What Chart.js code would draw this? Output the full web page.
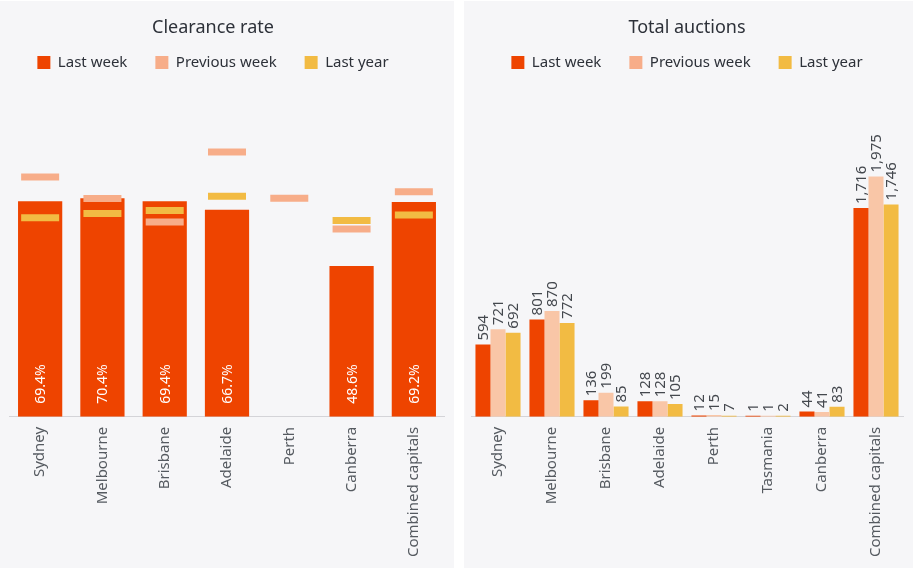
<!DOCTYPE html>
<html>
<head>
<meta charset="utf-8">
<script src="https://cdn.jsdelivr.net/npm/chart.js@4.4.1/dist/chart.umd.min.js"></script>
<style>
  body { margin: 0; background: #fff; width: 919px; height: 568px; position: relative; overflow: hidden; }
  .panel { position: absolute; top: 1px; height: 567px; background: #f6f6f8; }
  #left { left: 0; width: 454px; }
  #right { left: 464px; width: 449px; }
  .box { position: absolute; top: 0; height: 567px; }
  #leftBox { left: -19px; width: 464px; }
  #rightBox { left: 0; width: 449px; }
</style>
</head>
<body>
<div class="panel" id="left"><div class="box" id="leftBox"><canvas id="clearance"></canvas></div></div>
<div class="panel" id="right"><div class="box" id="rightBox"><canvas id="auctions"></canvas></div></div>
<script>
// clearance rate (%)
const clearanceCities = ['Sydney', 'Melbourne', 'Brisbane', 'Adelaide', 'Perth', 'Canberra', 'Combined capitals'];
const clearanceLastWeek = [69.4, 70.4, 69.4, 66.7, null, 48.6, 69.2];
const clearancePrevWeek = [77.2, 70.3, 62.7, 85.3, 70.4, 60.5, 72.5];
const clearanceLastYear = [64.1, 65.5, 66.4, 71.0, null, 63.2, 65.0];

// total auctions
const auctionCities = ['Sydney', 'Melbourne', 'Brisbane', 'Adelaide', 'Perth', 'Tasmania', 'Canberra', 'Combined capitals'];
const auctionsLastWeek = [594, 801, 136, 128, 12, 1, 44, 1716];
const auctionsPrevWeek = [721, 870, 199, 128, 15, 1, 41, 1975];
const auctionsLastYear = [692, 772, 85, 105, 7, 2, 83, 1746];

const seriesNames = ['Last week', 'Previous week', 'Last year'];
const orange = '#ee4400';
const peach = '#f7ad89';
const peachLight = '#f9c6a7';
const gold = '#f2bb43';

const titleFont = "'Noto Sans', sans-serif";
const tickFont = "'Noto Sans', sans-serif";

function legendBoxes() {
  return [orange, peach, gold].map((c, i) => ({
    text: seriesNames[i], fillStyle: c, strokeStyle: c, lineWidth: 0, hidden: false, datasetIndex: i, fontColor: '#2d3139'
  }));
}

// draws rotated value labels on the bars
const barLabels = {
  id: 'barLabels',
  afterDatasetsDraw(chart, args, opts) {
    const ctx = chart.ctx;
    chart.data.datasets.forEach((ds, i) => {
      if (ds.type === 'line') return;
      const meta = chart.getDatasetMeta(i);
      meta.data.forEach((bar, j) => {
        const v = ds.data[j];
        if (v == null) return;
        ctx.save();
        ctx.font = opts.font;
        ctx.fillStyle = opts.color;
        ctx.textAlign = 'left';
        ctx.textBaseline = 'middle';
        if (opts.inside) {
          ctx.translate(bar.x, bar.base - 13);
        } else {
          ctx.translate(bar.x, bar.y - 4);
        }
        ctx.rotate(-Math.PI / 2);
        ctx.fillText(opts.format(v), 0, 1);
        ctx.restore();
      });
    });
  }
};

const common = {
  responsive: true,
  maintainAspectRatio: false,
  animation: false,
  events: [],
  plugins: {
    title: {
      display: true,
      color: '#2d3139',
      font: { family: titleFont, size: 18, weight: 'normal' },
      padding: { top: 16, bottom: -11.6 }
    },
    legend: {
      display: true,
      labels: {
        boxWidth: 13, boxHeight: 13, padding: 28,
        color: '#2d3139',
        font: { family: titleFont, size: 15 },
        generateLabels: legendBoxes
      }
    },
    tooltip: { enabled: false }
  }
};

function xAxis() {
  return {
    grid: { display: false, drawTicks: false },
    border: { display: true, color: '#d4d4d8', width: 1 },
    ticks: {
      color: '#555a60', font: { family: tickFont, size: 15 },
      maxRotation: 90, minRotation: 90, padding: 10, autoSkip: false
    },
    afterFit(scale) {
      scale.paddingLeft = 0;
      scale.paddingRight = 0;
    }
  };
}

// empty axis on top: only leaves a gap between legend and bars
function gapAxis() {
  return {
    axis: 'x', position: 'top',
    grid: { display: false, drawTicks: false }, border: { display: false }, ticks: { display: false },
    afterFit(scale) {
      scale.height = 16;
      scale.paddingLeft = 0;
      scale.paddingRight = 0;
    }
  };
}

new Chart(document.getElementById('clearance'), {
  type: 'bar',
  data: {
    labels: clearanceCities,
    datasets: [
      { label: seriesNames[0], data: clearanceLastWeek, backgroundColor: orange, order: 3,
        barPercentage: 0.71, categoryPercentage: 1 },
      { type: 'line', label: seriesNames[1], data: clearancePrevWeek, showLine: false, order: 2,
        pointStyle: 'line', pointRadius: 19, pointBorderWidth: 7, pointBorderColor: peach,
        backgroundColor: peach, borderColor: peach, borderWidth: 0 },
      { type: 'line', label: seriesNames[2], data: clearanceLastYear, showLine: false, order: 1,
        pointStyle: 'line', pointRadius: 19, pointBorderWidth: 7, pointBorderColor: gold,
        backgroundColor: gold, borderColor: gold, borderWidth: 0 }
    ]
  },
  options: {
    ...common,
    layout: { autoPadding: false, padding: { left: 0, right: 0, top: 0, bottom: 1 } },
    plugins: {
      ...common.plugins,
      title: { ...common.plugins.title, text: 'Clearance rate' },
      barLabels: { inside: true, color: '#ffffff', font: "14px 'Noto Sans', sans-serif", format: v => v.toFixed(1) + '%' }
    },
    scales: {
      x: xAxis(),
      xTop: gapAxis(),
      // hidden axis that only reserves room on the left
      y: {
        min: 0, max: 103.3,
        grid: { display: false }, border: { display: false }, ticks: { display: false },
        afterFit(scale) { scale.width = 28; }
      }
    }
  },
  plugins: [barLabels]
});

new Chart(document.getElementById('auctions'), {
  type: 'bar',
  data: {
    labels: auctionCities,
    datasets: [
      { label: seriesNames[0], data: auctionsLastWeek, backgroundColor: orange },
      { label: seriesNames[1], data: auctionsPrevWeek, backgroundColor: peachLight },
      { label: seriesNames[2], data: auctionsLastYear, backgroundColor: gold }
    ]
  },
  options: {
    ...common,
    layout: { autoPadding: false, padding: { left: 7, right: 10, top: 0, bottom: 1 } },
    datasets: { bar: { barPercentage: 1, categoryPercentage: 0.835, minBarLength: 1 } },
    plugins: {
      ...common.plugins,
      title: { ...common.plugins.title, text: 'Total auctions' },
      barLabels: { inside: false, color: '#44484e', font: "15px 'Noto Sans', sans-serif", format: v => v.toLocaleString('en-US') }
    },
    scales: {
      x: xAxis(),
      xTop: gapAxis(),
      y: { display: false, min: 0, max: 2637 }
    }
  },
  plugins: [barLabels]
});
</script>
</body>
</html>
